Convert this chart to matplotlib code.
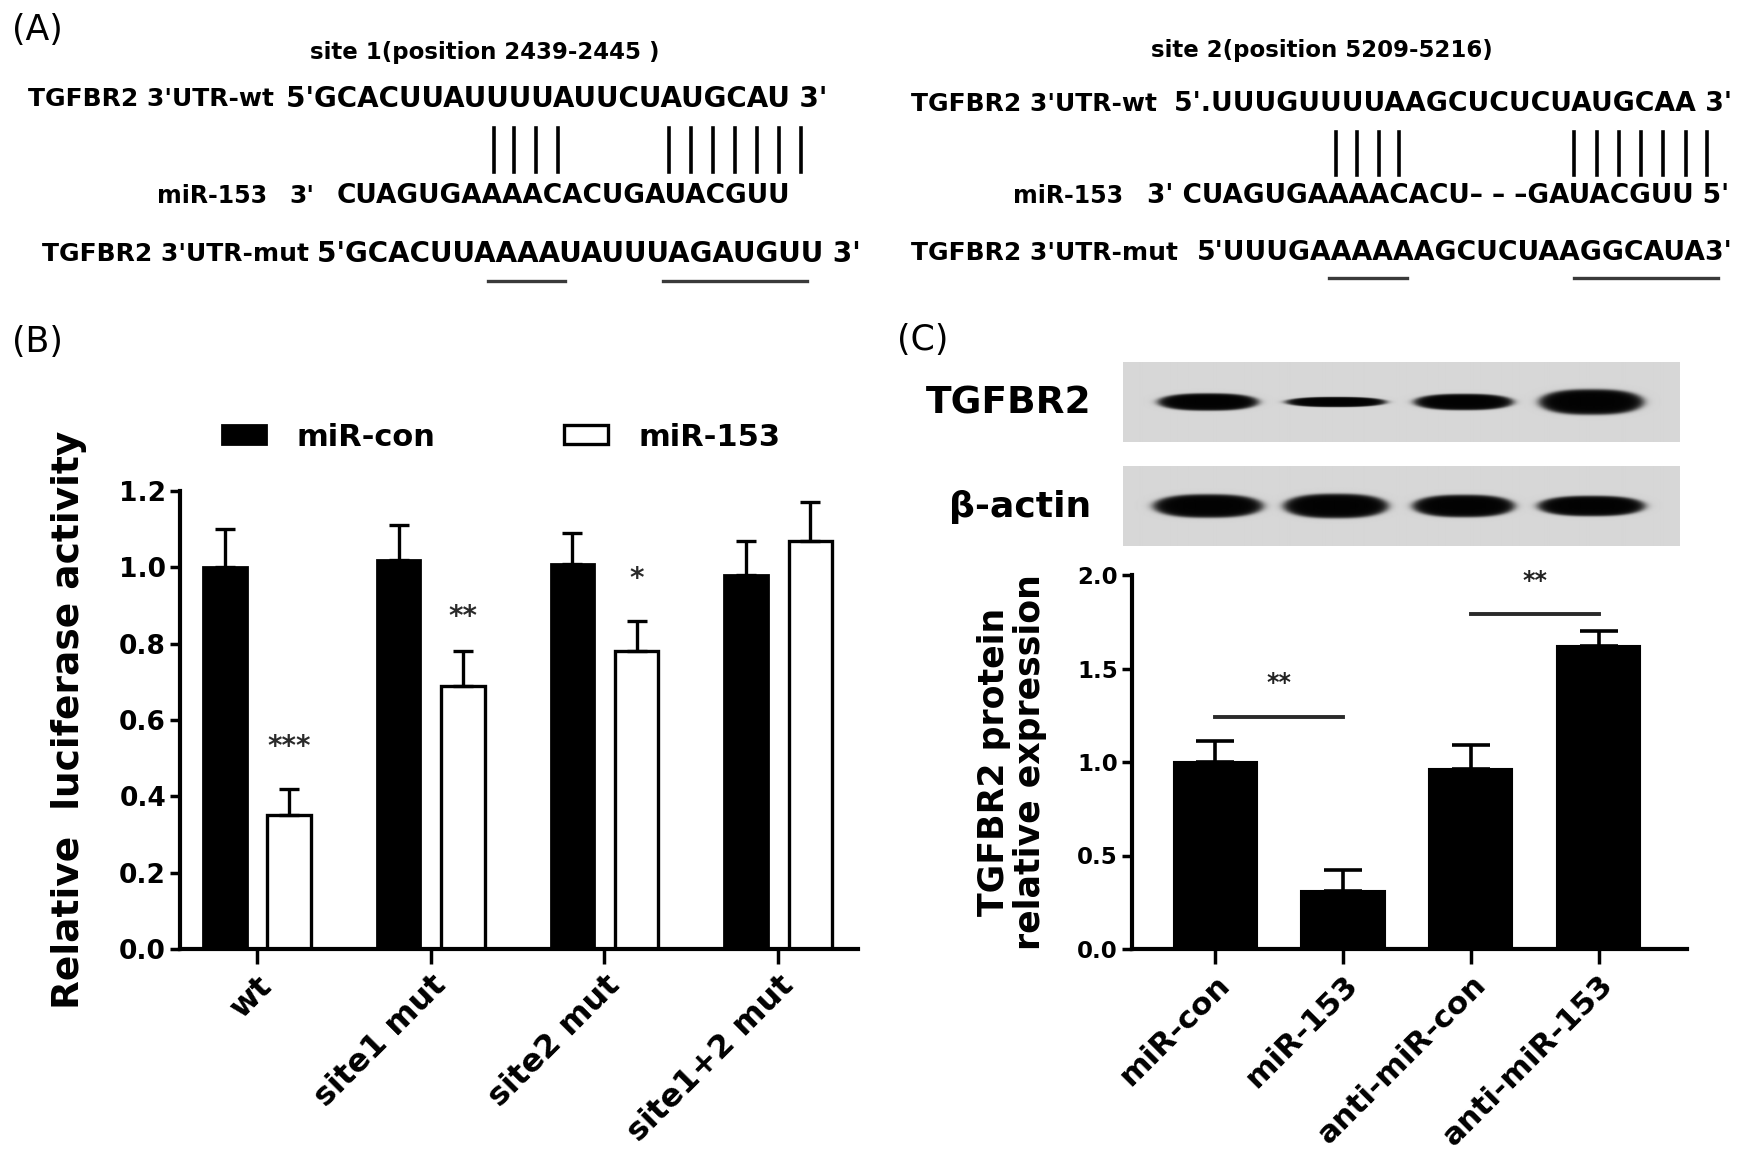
import numpy as np
import matplotlib
matplotlib.use("Agg")
import matplotlib.pyplot as plt

plt.rcParams['font.family'] = ['DejaVu Sans']

# ---- panel B: luciferase reporter ----
b_groups = ['wt', 'site1 mut', 'site2 mut', 'site1+2 mut']
b_con = [1.00, 1.02, 1.01, 0.98]
b_con_err = [0.10, 0.09, 0.08, 0.09]
b_mir = [0.35, 0.69, 0.78, 1.07]
b_mir_err = [0.07, 0.09, 0.08, 0.10]
b_sig = ['***', '**', '*', '']
b_sig_y = [0.53, 0.87, 0.97, 0.0]

# ---- panel C: western blot quantification ----
c_groups = ['miR-con', 'miR-153', 'anti-miR-con', 'anti-miR-153']
c_vals = [1.00, 0.31, 0.96, 1.62]
c_err = [0.11, 0.11, 0.13, 0.08]
c_pair_left = [0, 2]
c_pair_right = [1, 3]
c_pair_y = [1.24, 1.79]
c_pair_sig = ['**', '**']

# blot band shapes (length in lane units, thickness in px)
tgfbr2_len = [0.78, 0.78, 0.77, 0.81]
tgfbr2_thick = [17, 10, 16, 25]
actin_len = [0.85, 0.81, 0.79, 0.83]
actin_thick = [23, 24, 22, 20]

# ---- panel A: sequences ----
site1_title = 'site 1(position 2439-2445 )'
site2_title = 'site 2(position 5209-5216)'
utr_wt = "TGFBR2 3'UTR-wt"
utr_mut = "TGFBR2 3'UTR-mut"
mir_name = 'miR-153'
s1_wt = "5'GCACUUAUUUUAUUCUAUGCAU 3'"
s1_mir = 'CUAGUGAAAACACUGAUACGUU'
s1_mut = "5'GCACUUAAAAUAUUUAGAUGUU 3'"
s2_wt = "5'.UUUGUUUUAAGCUCUCUAUGCAA 3'"
s2_mir = "3' CUAGUGAAAACACU\u2013 \u2013 \u2013GAUACGUU 5'"
s2_mut = "5'UUUGAAAAAAGCUCUAAGGCAUA3'"

W, H = 1750, 1152
fig = plt.figure(figsize=(W / 100, H / 100), dpi=100)


def fig_rect(x0, y0, x1, y1):
    return [x0 / W, 1 - y1 / H, (x1 - x0) / W, (y1 - y0) / H]


# overlay in pixel coordinates for the free text
ov = fig.add_axes([0, 0, 1, 1])
ov.set_xlim(0, W)
ov.set_ylim(H, 0)
ov.axis('off')


def txt(x, y, s, size, bold=True, ha='left'):
    ov.text(x, y, s, fontsize=size, fontweight='bold' if bold else 'normal',
            ha=ha, va='center')


txt(12, 30, '(A)', 25, bold=False)
txt(12, 342, '(B)', 25, bold=False)
txt(897, 340, '(C)', 25, bold=False)

# site 1
txt(485, 53, site1_title, 16.5, ha='center')
txt(28, 99, utr_wt, 18)
txt(286, 99, s1_wt, 20)
txt(157, 196, mir_name, 17)
txt(289, 196, "3'", 18)
txt(337, 196, s1_mir, 19)
txt(42, 254, utr_mut, 18)
txt(317, 254, s1_mut, 20)
for x in [494, 514, 536, 558, 669, 691, 713, 735, 757, 779, 801]:
    ov.plot([x, x], [128, 172], color='black', lw=2.6)
for x0, x1 in [(488, 565), (663, 807)]:
    ov.plot([x0, x1], [281, 281], color='#3a3a3a', lw=2.4)

# site 2
txt(1322, 50, site2_title, 16.5, ha='center')
txt(911, 104, utr_wt, 18)
txt(1174, 104, s2_wt, 19.3)
txt(1013, 196, mir_name, 17)
txt(1147, 196, s2_mir, 19)
txt(911, 253, utr_mut, 18)
txt(1197, 253, s2_mut, 19.3)
for x in [1336, 1357, 1379, 1399, 1574, 1597, 1619, 1641, 1663, 1686, 1707]:
    ov.plot([x, x], [132, 175], color='black', lw=2.6)
for x0, x1 in [(1329, 1407), (1574, 1718)]:
    ov.plot([x0, x1], [278, 278], color='#3a3a3a', lw=2.4)


def style_axis(ax):
    for side in ['top', 'right']:
        ax.spines[side].set_visible(False)
    for side in ['left', 'bottom']:
        ax.spines[side].set_linewidth(3)
    ax.tick_params(axis='y', width=2.5, length=7, pad=3)
    ax.tick_params(axis='x', width=2.5, length=11, pad=4)


# ---- panel B ----
axb = fig.add_axes(fig_rect(180, 491, 858, 949))
xb = np.arange(len(b_groups))
off, bw = 0.185, 0.25
con_bars = axb.bar(xb - off, b_con, bw, color='black', edgecolor='black', lw=2, label='miR-con')
mir_bars = axb.bar(xb + off, b_mir, bw, color='white', edgecolor='black', lw=2.4, label='miR-153')
axb.errorbar(xb - off, b_con, yerr=[np.zeros(4), b_con_err], fmt='none', ecolor='black',
             elinewidth=2.4, capsize=7, capthick=2.4, clip_on=False)
axb.errorbar(xb + off, b_mir, yerr=[np.zeros(4), b_mir_err], fmt='none', ecolor='black',
             elinewidth=2.4, capsize=7, capthick=2.4, clip_on=False)
for i, (s, y) in enumerate(zip(b_sig, b_sig_y)):
    if s:
        axb.text(xb[i] + off, y, s, ha='center', va='center', fontsize=20,
                 fontweight='bold', color='#2a2a2a')
axb.set_xlim(-0.443, 3.46)
axb.set_ylim(0, 1.2)
axb.set_yticks(np.arange(0, 1.21, 0.2))
axb.set_yticklabels([f'{v:.1f}' for v in np.arange(0, 1.21, 0.2)], fontsize=19, fontweight='bold')
axb.set_xticks(xb)
axb.set_xticklabels(b_groups, rotation=45, ha='right', rotation_mode='anchor',
                    fontsize=23, fontweight='bold')
style_axis(axb)
axb.set_ylabel('Relative  luciferase activity', fontsize=27, fontweight='bold')
axb.yaxis.label.set_va('center')
axb.yaxis.set_label_coords((69 - 180) / 678, 0.5)
axb.legend(handles=[con_bars, mir_bars], ncol=2, frameon=False,
           prop={'weight': 'bold', 'size': 22},
           loc='center left', bbox_to_anchor=(222 / W, 1 - 437 / H),
           bbox_transform=fig.transFigure, borderpad=0, borderaxespad=0,
           handlelength=1.45, handleheight=0.6, handletextpad=1.0, columnspacing=4.2)

# ---- panel C blots ----


def draw_blot(rect, lengths, thick):
    ax = fig.add_axes(rect)
    nx, ny = 700, 80
    xs = np.linspace(-0.664, 3.69, nx)
    ys = np.arange(ny) + 0.5
    X, Y = np.meshgrid(xs, ys)
    img = np.full(X.shape, 0.84)
    for i, (L, T) in enumerate(zip(lengths, thick)):
        d = np.abs((X - i) / (L / 2)) ** 2.6 + ((Y - 40) / (T / 2)) ** 2
        dark = 1 / (1 + np.exp((d - 1) * 7))
        img = img * (1 - dark) + 0.01 * dark
    ax.imshow(img, cmap='gray', vmin=0, vmax=1, extent=[xs[0], xs[-1], ny, 0],
              aspect='auto', interpolation='bilinear')
    ax.axis('off')
    return ax


draw_blot(fig_rect(1123, 362, 1680, 442), tgfbr2_len, tgfbr2_thick)
draw_blot(fig_rect(1123, 466, 1680, 546), actin_len, actin_thick)
txt(1091, 403, 'TGFBR2', 27, ha='right')
txt(1091, 507, '\u03b2-actin', 26, ha='right')

# ---- panel C bars ----
axc = fig.add_axes(fig_rect(1132, 575, 1687, 949))
xc = np.arange(len(c_groups))
axc.bar(xc, c_vals, 0.65, color='black', edgecolor='black', lw=1.5)
axc.errorbar(xc, c_vals, yerr=[np.zeros(4), c_err], fmt='none', ecolor='black',
             elinewidth=2.6, capsize=14, capthick=2.6, clip_on=False)
for a, b, y, s in zip(c_pair_left, c_pair_right, c_pair_y, c_pair_sig):
    axc.plot([xc[a], xc[b]], [y, y], color='#2a2a2a', lw=2.8, clip_on=False)
    axc.text((xc[a] + xc[b]) / 2, y + 0.18, s, ha='center', va='center',
             fontsize=17, fontweight='bold', color='#222222', clip_on=False)
axc.set_xlim(-0.65, 3.69)
axc.set_ylim(0, 2.0)
axc.set_yticks(np.arange(0, 2.01, 0.5))
axc.set_yticklabels([f'{v:.1f}' for v in np.arange(0, 2.01, 0.5)], fontsize=16.5, fontweight='bold')
axc.set_xticks(xc)
axc.set_xticklabels(c_groups, rotation=45, ha='right', rotation_mode='anchor',
                    fontsize=22.5, fontweight='bold')
style_axis(axc)
axc.set_ylabel('TGFBR2 protein\nrelative expression', fontsize=25, fontweight='bold',
               linespacing=1.05)
axc.yaxis.label.set_va('center')
axc.yaxis.set_label_coords((1012 - 1132) / 555, 0.5)

fig.savefig('out.png', dpi=100)
